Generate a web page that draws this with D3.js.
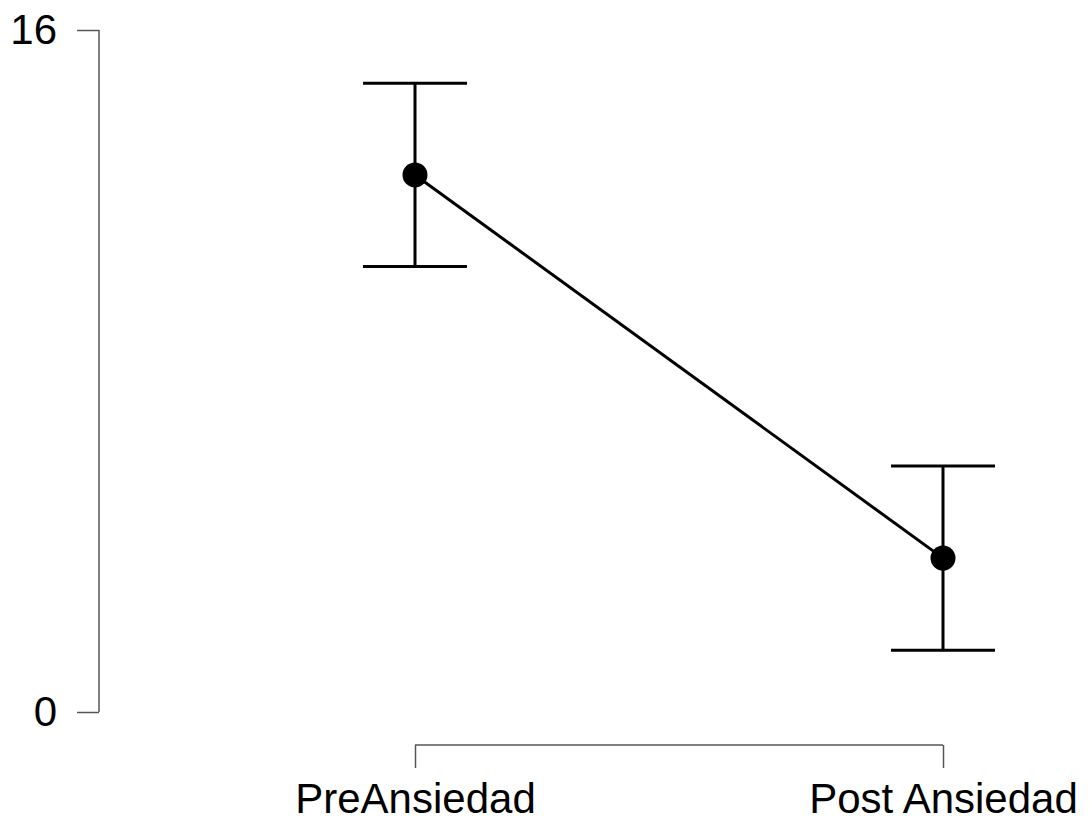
<!DOCTYPE html>
<html>
<head>
<meta charset="utf-8">
<script src="https://cdn.jsdelivr.net/npm/d3@7"></script>
<style>
  html, body { margin: 0; padding: 0; background: #fff; }
  svg { display: block; }
  text { font-family: "Liberation Sans", Arial, sans-serif; fill: #000; }
</style>
</head>
<body>
<svg id="chart" width="1090" height="824"></svg>
<script>
// Descriptive plot: mean anxiety score before and after, with interval bars
const categories = ["PreAnsiedad", "Post Ansiedad"];
const means = [12.60, 3.61];
const lower = [10.45, 1.45];
const upper = [14.75, 5.77];
const yTicks = [0, 16];

const svg = d3.select("#chart");

const x = d3.scalePoint().domain(categories).range([415, 943]);
const y = d3.scaleLinear().domain([0, 16]).range([712, 30]);

const axisColor = "#555";
const fontSize = "42px";

// Y axis: spine plus ticks at the domain ends
const yAxis = svg.append("g").attr("transform", "translate(99,0)")
  .call(d3.axisLeft(y).tickValues(yTicks).tickSize(22).tickPadding(20).tickFormat(d3.format("d")));
yAxis.select(".domain").attr("d", `M0,${y(16)}V${y(0)}`).attr("stroke", axisColor).attr("stroke-width", 1.5);
yAxis.selectAll(".tick line").attr("stroke", axisColor).attr("stroke-width", 1.5);
yAxis.selectAll(".tick text").style("font-size", fontSize).attr("fill", "#000")
  .style("font-family", "'Liberation Sans', Arial, sans-serif");

// X axis: bracket between the two categories
const xAxis = svg.append("g").attr("transform", "translate(0,745)")
  .call(d3.axisBottom(x).tickSize(23));
xAxis.select(".domain").attr("d", `M${x(categories[0])},0H${x(categories[1])}`)
  .attr("stroke", axisColor).attr("stroke-width", 1.5);
xAxis.selectAll(".tick line").attr("stroke", axisColor).attr("stroke-width", 1.5);
xAxis.selectAll(".tick text").style("font-size", fontSize).attr("fill", "#000")
  .attr("y", 68).attr("dy", 0)
  .style("font-family", "'Liberation Sans', Arial, sans-serif");

const data = categories.map((c, i) => ({ c, m: means[i], lo: lower[i], hi: upper[i] }));

// Interval bars
const capHalf = 52;
const bars = svg.append("g").attr("stroke", "#000").attr("stroke-width", 3).attr("fill", "none");
data.forEach(d => {
  const cx = x(d.c);
  bars.append("line").attr("x1", cx).attr("x2", cx).attr("y1", y(d.hi)).attr("y2", y(d.lo));
  bars.append("line").attr("x1", cx - capHalf).attr("x2", cx + capHalf).attr("y1", y(d.hi)).attr("y2", y(d.hi));
  bars.append("line").attr("x1", cx - capHalf).attr("x2", cx + capHalf).attr("y1", y(d.lo)).attr("y2", y(d.lo));
});

// Connecting line between means
svg.append("path").datum(data)
  .attr("fill", "none").attr("stroke", "#000").attr("stroke-width", 3)
  .attr("d", d3.line().x(d => x(d.c)).y(d => y(d.m)));

// Mean points
svg.append("g").selectAll("circle").data(data).join("circle")
  .attr("cx", d => x(d.c)).attr("cy", d => y(d.m)).attr("r", 12.5).attr("fill", "#000");
</script>
</body>
</html>
